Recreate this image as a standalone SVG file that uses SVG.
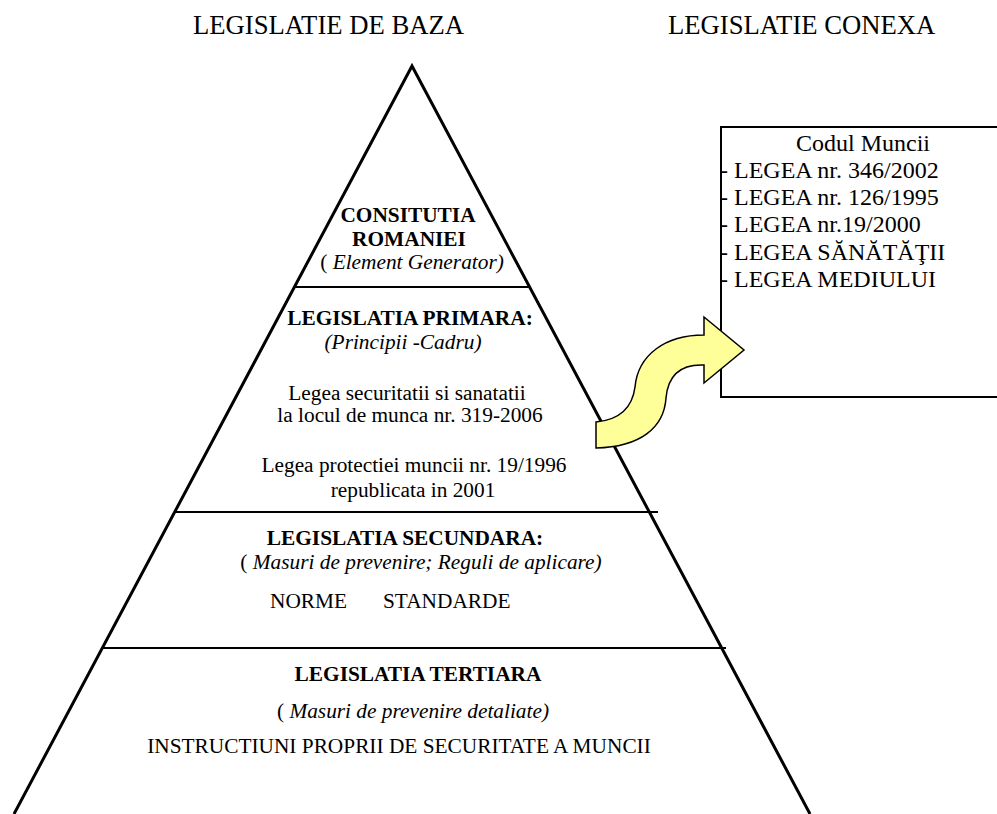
<svg xmlns="http://www.w3.org/2000/svg" width="997" height="814" viewBox="0 0 997 814">
<style>
  text { font-family: "Liberation Serif", "Times New Roman", serif; fill: #000; }
  .hdr { font-size: 26.67px; }
  .t { font-size: 21.33px; text-anchor: middle; }
  .b { font-weight: bold; }
  .i { font-style: italic; }
  .box { font-size: 24px; }
  .edge { stroke: #000; stroke-width: 3; fill: none; }
  .hl { stroke: #000; stroke-width: 2; fill: none; }
</style>
<rect width="997" height="814" fill="#fff"/>

<g id="headers">
  <text class="hdr" x="193" y="34">LEGISLATIE DE BAZA</text>
  <text class="hdr" x="668" y="34">LEGISLATIE CONEXA</text>
</g>

<g id="pyramid">
  <polyline class="edge" points="14,814 412,66 810,814"/>
  <line class="hl" x1="294" y1="287" x2="530" y2="287"/>
  <line class="hl" x1="175" y1="512" x2="658" y2="512"/>
  <line class="hl" x1="103" y1="648" x2="726" y2="648"/>
</g>

<g id="constitutia">
  <text class="t b" x="408" y="222">CONSITUTIA</text>
  <text class="t b" x="409" y="246">ROMANIEI</text>
  <text class="t" x="412" y="269">( <tspan class="i">Element Generator)</tspan></text>
</g>

<g id="primara">
  <text class="t b" x="410" y="325">LEGISLATIA PRIMARA:</text>
  <text class="t i" x="403" y="349">(Principii -Cadru)</text>
  <text class="t" x="407" y="400">Legea securitatii si sanatatii</text>
  <text class="t" x="410" y="422">la locul de munca nr. 319-2006</text>
  <text class="t" x="414" y="472">Legea protectiei muncii nr. 19/1996</text>
  <text class="t" x="413" y="497">republicata in 2001</text>
</g>

<g id="secundara">
  <text class="t b" x="405" y="545">LEGISLATIA SECUNDARA:</text>
  <text class="t" x="421" y="569">( <tspan class="i">Masuri de prevenire; Reguli de aplicare)</tspan></text>
  <text class="t" x="270" y="608" text-anchor="start" style="text-anchor:start">NORME</text>
  <text class="t" x="383" y="608" text-anchor="start" style="text-anchor:start">STANDARDE</text>
</g>

<g id="tertiara">
  <text class="t b" x="418" y="681">LEGISLATIA TERTIARA</text>
  <text class="t" x="413" y="718">( <tspan class="i">Masuri de prevenire detaliate)</tspan></text>
  <text class="t" x="399" y="753">INSTRUCTIUNI PROPRII DE SECURITATE A MUNCII</text>
</g>

<g id="conexa">
  <rect x="721" y="127" width="300" height="270" fill="#fff" stroke="#000" stroke-width="2"/>
  <text class="box" x="863" y="151" text-anchor="middle">Codul Muncii</text>
  <text class="box" x="720" y="178">- LEGEA nr. 346/2002</text>
  <text class="box" x="720" y="205">- LEGEA nr. 126/1995</text>
  <text class="box" x="720" y="232">- LEGEA nr.19/2000</text>
  <text class="box" x="720" y="260">- LEGEA SĂNĂTĂŢII</text>
  <text class="box" x="720" y="287">- LEGEA MEDIULUI</text>
</g>

<g id="connectors">
  <path d="M596,422 C618,420 632,410 635,387 C638,355 665,335 704,335 L704,317 L744,350 L704,383 L704,365 C680,364 668,375 666,398 C664,428 640,447 596,448 Z" fill="#ffff99" stroke="#000" stroke-width="1.5" stroke-linejoin="miter"/>
</g>
</svg>
